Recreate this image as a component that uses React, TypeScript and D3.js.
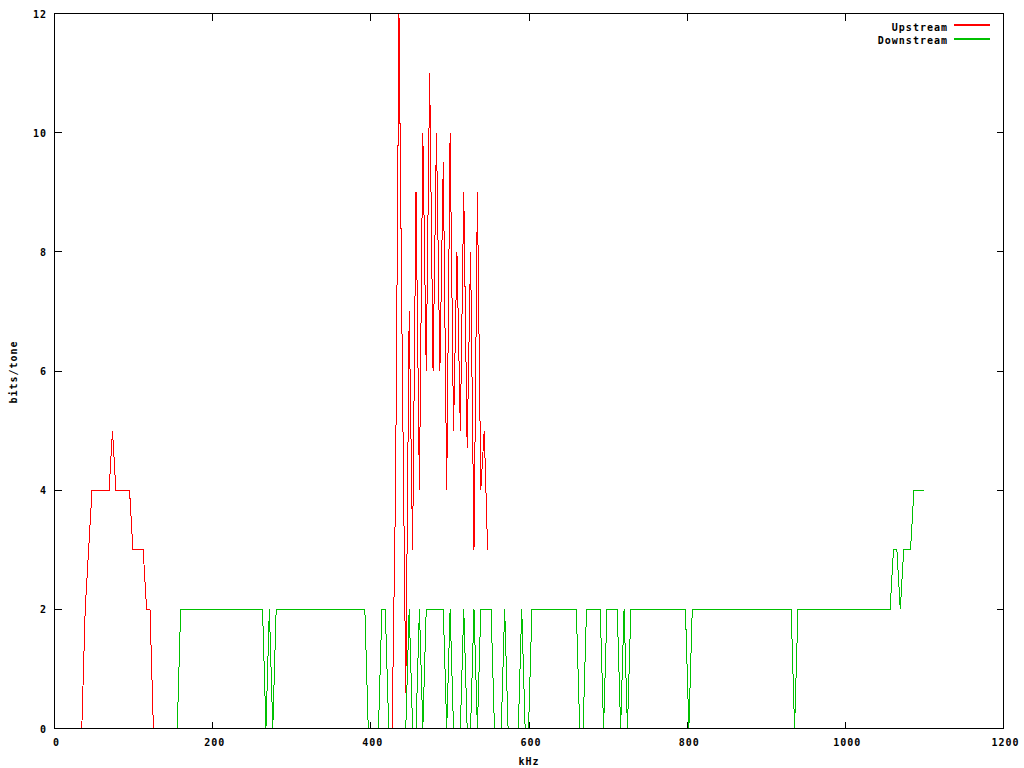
import React from "react";
import * as d3 from "d3";

// ---- data (bits per DMT tone, tone spacing 4.3125 kHz) ----
const TONE_KHZ = 4.3125;

const upstreamBand1Start = 8;
const upstreamBand1 = [0, 2, 3, 4, 4, 4, 4, 4, 4, 5, 4, 4, 4, 4, 4, 3, 3, 3, 3, 2, 2, 0];

const upstreamBand2Start = 99;
const upstreamBand2 = [
  0, 4, 12, 6, 0.6, 7, 3, 9, 4, 10, 6, 11, 6, 10, 6, 9.5, 4, 10, 5, 8, 5, 9, 4.7, 8, 3, 9, 4, 5, 3,
];

const downstreamStart = 36;
const downstream = [
  0, 2, 2, 2, 2, 2, 2, 2, 2, 2, // 36-45
  2, 2, 2, 2, 2, 2, 2, 2, 2, 2, // 46-55
  2, 2, 2, 2, 2, 2, 0, 2, 0, 2, // 56-65
  2, 2, 2, 2, 2, 2, 2, 2, 2, 2, // 66-75
  2, 2, 2, 2, 2, 2, 2, 2, 2, 2, // 76-85
  2, 2, 2, 2, 2, 2, 0, 0, 0, 0, // 86-95
  2, 2, 0, 0, 0, 0, 0, 0, 2, 0, // 96-105
  0, 2, 0, 2, 2, 2, 2, 2, 2, 0, // 106-115
  2, 0, 0, 0, 2, 0, 0, 2, 0, 2, // 116-125
  2, 2, 2, 0, 0, 0, 2, 0, 0, 0, // 126-135
  0, 2, 0, 0, 2, 2, 2, 2, 2, 2, // 136-145
  2, 2, 2, 2, 2, 2, 2, 2, 0, 0, // 146-155
  2, 2, 2, 2, 2, 0, 2, 2, 2, 2, // 156-165
  0, 2, 0, 2, 2, 2, 2, 2, 2, 2, // 166-175
  2, 2, 2, 2, 2, 2, 2, 2, 2, 2, // 176-185
  0, 2, 2, 2, 2, 2, 2, 2, 2, 2, // 186-195
  2, 2, 2, 2, 2, 2, 2, 2, 2, 2, // 196-205
  2, 2, 2, 2, 2, 2, 2, 2, 2, 2, // 206-215
  2, 0, 2, 2, 2, 2, 2, 2, 2, 2, // 216-225
  2, 2, 2, 2, 2, 2, 2, 2, 2, 2, // 226-235
  2, 2, 2, 2, 2, 2, 2, 2, 2, 2, // 236-245
  3, 3, 2, 3, 3, 3, 4, 4, 4, 4, // 246-255
];

const xTicks = [0, 200, 400, 600, 800, 1000, 1200];
const yTicks = [0, 2, 4, 6, 8, 10, 12];

const seriesNames = ["Upstream", "Downstream"];
const seriesColors = ["#ff0000", "#00c000"];

type Pt = { khz: number; bits: number };
const toPoints = (start: number, vals: number[]): Pt[] =>
  vals.map((b, i) => ({ khz: (start + i) * TONE_KHZ, bits: b }));

export default function App() {
  const W = 1024;
  const H = 768;
  const left = 54.5,
    right = 1003.5,
    top = 13.5,
    bottom = 728.5;

  const x = d3.scaleLinear().domain([0, 1200]).range([left, right]);
  const y = d3.scaleLinear().domain([0, 12]).range([bottom, top]);

  const line = d3
    .line<Pt>()
    .x((d) => x(d.khz))
    .y((d) => y(d.bits));

  const up1 = toPoints(upstreamBand1Start, upstreamBand1);
  const up2 = toPoints(upstreamBand2Start, upstreamBand2);
  const down = toPoints(downstreamStart, downstream);

  const font = {
    fontFamily: "'DejaVu Sans Mono', monospace",
    fontWeight: 700,
    fontSize: 10,
    letterSpacing: 1,
  } as const;

  const tickLen = 7;

  return (
    <div style={{ position: "fixed", left: 0, top: 0, width: W, height: H, background: "#fff" }}>
      <svg width={W} height={H} viewBox={`0 0 ${W} ${H}`} style={{ display: "block" }}>
        <rect x={0} y={0} width={W} height={H} fill="#fff" />

        {/* data */}
        <path d={line(down) || ""} fill="none" stroke={seriesColors[1]} strokeWidth={1} shapeRendering="crispEdges" />
        <path d={line(up1) || ""} fill="none" stroke={seriesColors[0]} strokeWidth={1} shapeRendering="crispEdges" />
        <path d={line(up2) || ""} fill="none" stroke={seriesColors[0]} strokeWidth={1} shapeRendering="crispEdges" />

        {/* border and ticks */}
        <g stroke="#000" strokeWidth={1} shapeRendering="crispEdges" fill="none">
          <rect x={left} y={top} width={right - left} height={bottom - top} />
          {xTicks.map((t) => (
            <g key={"xt" + t}>
              <line x1={Math.floor(x(t)) + 0.5} x2={Math.floor(x(t)) + 0.5} y1={bottom} y2={bottom - tickLen} />
              <line x1={Math.floor(x(t)) + 0.5} x2={Math.floor(x(t)) + 0.5} y1={top} y2={top + tickLen} />
            </g>
          ))}
          {yTicks.map((t) => (
            <g key={"yt" + t}>
              <line x1={left} x2={left + tickLen} y1={Math.floor(y(t)) + 0.5} y2={Math.floor(y(t)) + 0.5} />
              <line x1={right} x2={right - tickLen} y1={Math.floor(y(t)) + 0.5} y2={Math.floor(y(t)) + 0.5} />
            </g>
          ))}
        </g>

        {/* tick labels */}
        <g style={font} fill="#000">
          {yTicks.map((t) => (
            <text key={"yl" + t} x={47} y={y(t) + 4} textAnchor="end">
              {t}
            </text>
          ))}
          {xTicks.map((t) => (
            <text key={"xl" + t} x={x(t) + 2} y={746} textAnchor="middle">
              {t}
            </text>
          ))}
          <text x={529} y={765} textAnchor="middle">
            kHz
          </text>
          <text transform="translate(17,372) rotate(-90)" textAnchor="middle">
            bits/tone
          </text>
        </g>

        {/* legend */}
        {seriesNames.map((n, i) => (
          <text key={"lt" + n} x={948} y={30.5 + i * 13.5} textAnchor="end" style={font} fill="#000">
            {n}
          </text>
        ))}
        {seriesNames.map((n, i) => (
          <rect key={"ll" + n} x={954} y={24 + i * 14} width={36} height={2} fill={seriesColors[i]} />
        ))}
      </svg>
    </div>
  );
}
